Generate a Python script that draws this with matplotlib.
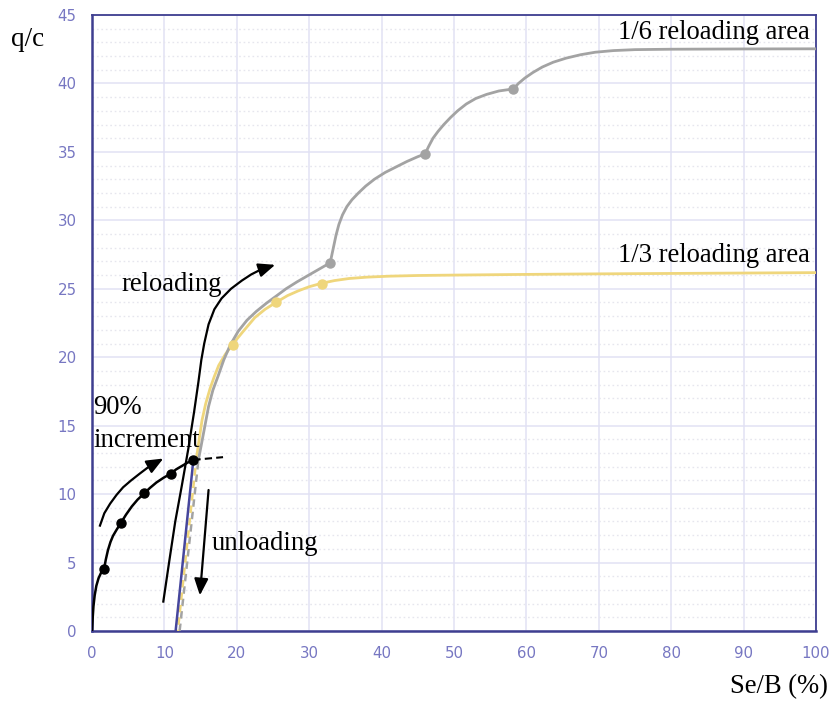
import matplotlib.pyplot as plt
from matplotlib.ticker import MultipleLocator

# primera carga (90% de incremento)
carga_x = [0, 0.1, 0.2, 0.37, 0.6, 0.9, 1.25, 1.66, 1.9, 2.2, 2.55, 2.9, 3.4, 3.96,
           4.7, 5.5, 6.3, 7.2, 8.0, 8.9, 9.9, 10.9, 11.6, 12.4, 13.2, 14.0]
carga_y = [0, 1.0, 1.8, 2.6, 3.3, 3.85, 4.25, 4.5, 5.2, 5.9, 6.5, 6.95, 7.4, 7.87,
           8.5, 9.1, 9.6, 10.05, 10.45, 10.85, 11.2, 11.5, 11.8, 12.05, 12.3, 12.5]
carga_pts_x = [1.66, 3.96, 7.2, 10.9, 14.0]
carga_pts_y = [4.5, 7.87, 10.05, 11.5, 12.5]
extension_x = [14.0, 18.1]
extension_y = [12.5, 12.7]

# descarga
descarga_x = [11.55, 14.0]
descarga_y = [0, 12.5]

# recarga 1/6
g_dash_x = [12.1, 14.7]
g_dash_y = [0, 12.5]
g_x = [14.7, 15.1, 15.6, 16.1, 16.7, 17.4, 18.2, 19.1, 20.2, 21.4, 22.7, 24.1, 25.4,
       26.8, 28.3, 30.6, 32.9,
       33.3, 33.7, 34.1, 34.6, 35.2, 35.9, 36.8, 37.8, 39.0, 40.5, 42.0, 43.5, 45.0, 46.0,
       46.5, 47.1, 47.8, 48.6, 49.5, 50.5, 51.7, 53.0, 54.5, 56.2, 58.2,
       58.9, 59.8, 60.9, 62.2, 63.7, 65.5, 67.5, 69.5, 72.0, 75.0, 80.0, 90.0, 100.0]
g_y = [12.5, 13.6, 15.0, 16.4, 17.6, 18.6, 19.8, 20.9, 21.9, 22.7, 23.35, 23.95, 24.45,
       25.0, 25.5, 26.2, 26.9,
       27.9, 28.9, 29.7, 30.4, 31.0, 31.5, 32.0, 32.5, 33.0, 33.5, 33.9, 34.3, 34.65, 34.85,
       35.4, 36.0, 36.5, 37.0, 37.5, 38.0, 38.5, 38.9, 39.2, 39.45, 39.6,
       40.0, 40.4, 40.8, 41.2, 41.55, 41.85, 42.1, 42.28, 42.4, 42.47, 42.5, 42.52, 42.53]
g_pts_x = [32.9, 46.0, 58.2]
g_pts_y = [26.9, 34.85, 39.6]

# recarga 1/3
y_dash_x = [11.85, 14.4]
y_dash_y = [0, 12.5]
y_x = [14.4, 14.8, 15.2, 15.7, 16.3, 16.9, 17.5, 18.4, 19.5, 20.9, 22.5, 23.9, 25.4,
       27.0, 28.5, 30.0, 31.7, 33.5, 35.5, 38.0, 41.0, 45.0, 50.0, 60.0, 70.0, 80.0, 90.0, 100.0]
y_y = [12.5, 14.0, 15.4, 16.6, 17.7, 18.6, 19.4, 20.2, 21.0, 21.9, 22.9, 23.5, 24.0,
       24.5, 24.85, 25.15, 25.4, 25.6, 25.75, 25.85, 25.92, 25.97, 26.0, 26.05, 26.09, 26.12, 26.15, 26.18]
y_pts_x = [19.5, 25.4, 31.7]
y_pts_y = [20.9, 24.0, 25.35]

# flechas
flecha_rec_x = [9.85, 10.7, 11.5, 12.4, 13.3, 14.1, 14.7, 15.1, 15.5, 16.1, 16.9, 17.9,
                19.2, 20.7, 22.0, 23.3, 25.3]
flecha_rec_y = [2.15, 5.2, 8.0, 10.6, 13.3, 16.0, 18.2, 19.8, 21.0, 22.4, 23.5, 24.3,
                25.0, 25.6, 26.05, 26.4, 26.75]
flecha_inc_x = [1.1, 1.7, 2.5, 3.4, 4.3, 5.4, 6.6, 7.6, 8.5, 9.85]
flecha_inc_y = [7.7, 8.6, 9.3, 9.95, 10.5, 11.0, 11.5, 11.9, 12.2, 12.6]
flecha_desc_x = [16.1, 14.9]
flecha_desc_y = [10.3, 2.6]

plt.rcParams['font.family'] = ['DejaVu Sans']
serif = 'Liberation Serif'
gris = '#a3a3a3'
amarillo = '#efd67c'
azul = '#46469c'
marco = '#3e3e90'

fig = plt.figure(figsize=(8.32, 7.02), dpi=100)
ax = fig.add_axes([92/832, 1 - 631/702, 724/832, 616/702])

ax.set_xlim(0, 100)
ax.set_ylim(0, 45)
ax.xaxis.set_major_locator(MultipleLocator(10))
ax.yaxis.set_major_locator(MultipleLocator(5))
ax.yaxis.set_minor_locator(MultipleLocator(1))
ax.grid(which='major', color='#e1e1f4', linewidth=1.1)
ax.grid(which='minor', axis='y', color='#e6e6ee', linewidth=1.0, linestyle=(0, (1.2, 2)))
ax.set_axisbelow(True)
ax.tick_params(which='both', length=0, colors='#7777c2', labelsize=10.8, pad=11)
for lado in ['left', 'bottom']:
    ax.spines[lado].set_color(marco)
    ax.spines[lado].set_linewidth(1.8)
for lado in ['top', 'right']:
    ax.spines[lado].set_color(marco)
    ax.spines[lado].set_linewidth(1.3)

# curvas de recarga
ax.plot(g_dash_x, g_dash_y, color=gris, lw=1.8, ls=(0, (3, 2)), zorder=3)
ax.plot(y_dash_x, y_dash_y, color=amarillo, lw=1.8, ls=(2.5, (3, 2)), zorder=3)
ax.plot(y_x, y_y, color=amarillo, lw=2, zorder=3, solid_joinstyle='round')
ax.plot(y_pts_x, y_pts_y, 'o', color=amarillo, ms=6.5, zorder=4)
ax.plot(g_x, g_y, color=gris, lw=2, zorder=3, solid_joinstyle='round')
ax.plot(g_pts_x, g_pts_y, 'o', color=gris, ms=6.5, zorder=4)

# descarga y carga inicial
ax.plot(descarga_x, descarga_y, color=azul, lw=1.8, zorder=5)
ax.plot(carga_x, carga_y, color='black', lw=1.8, zorder=5, solid_joinstyle='round')
ax.plot(extension_x, extension_y, color='black', lw=1.5, ls=(0, (3.5, 2)), zorder=5)
ax.plot(carga_pts_x, carga_pts_y, 'o', color='black', ms=6.5, zorder=6)

# flechas
for fx, fy in [(flecha_rec_x, flecha_rec_y), (flecha_inc_x, flecha_inc_y),
               (flecha_desc_x, flecha_desc_y)]:
    ax.plot(fx[:-1], fy[:-1], color='black', lw=1.6, zorder=6, solid_joinstyle='round')
    ax.annotate('', xy=(fx[-1], fy[-1]), xytext=(fx[-2], fy[-2]),
                arrowprops=dict(arrowstyle='-|>,head_length=1.0,head_width=0.42',
                                color='black', lw=1.6, shrinkA=0, shrinkB=0),
                zorder=6)

tam = 19.2
ax.text(99.2, 43.7, '1/6 reloading area', ha='right', va='center', fontsize=tam, family=serif)
ax.text(99.2, 27.4, '1/3 reloading area', ha='right', va='center', fontsize=tam, family=serif)
ax.text(11.05, 25.3, 'reloading', ha='center', va='center', fontsize=tam, family=serif)
ax.text(0.2, 16.3, '90%', ha='left', va='center', fontsize=tam, family=serif)
ax.text(0.2, 13.9, 'increment', ha='left', va='center', fontsize=tam, family=serif)
ax.text(16.6, 6.4, 'unloading', ha='left', va='center', fontsize=tam, family=serif)

fig.text(28/832, 1 - 40/702, 'q/c', ha='center', va='center', fontsize=19.5, family=serif)
fig.text(779/832, 1 - 687/702, 'Se/B (%)', ha='center', va='center', fontsize=19.2, family=serif)

fig.savefig('out.png', dpi=100)
